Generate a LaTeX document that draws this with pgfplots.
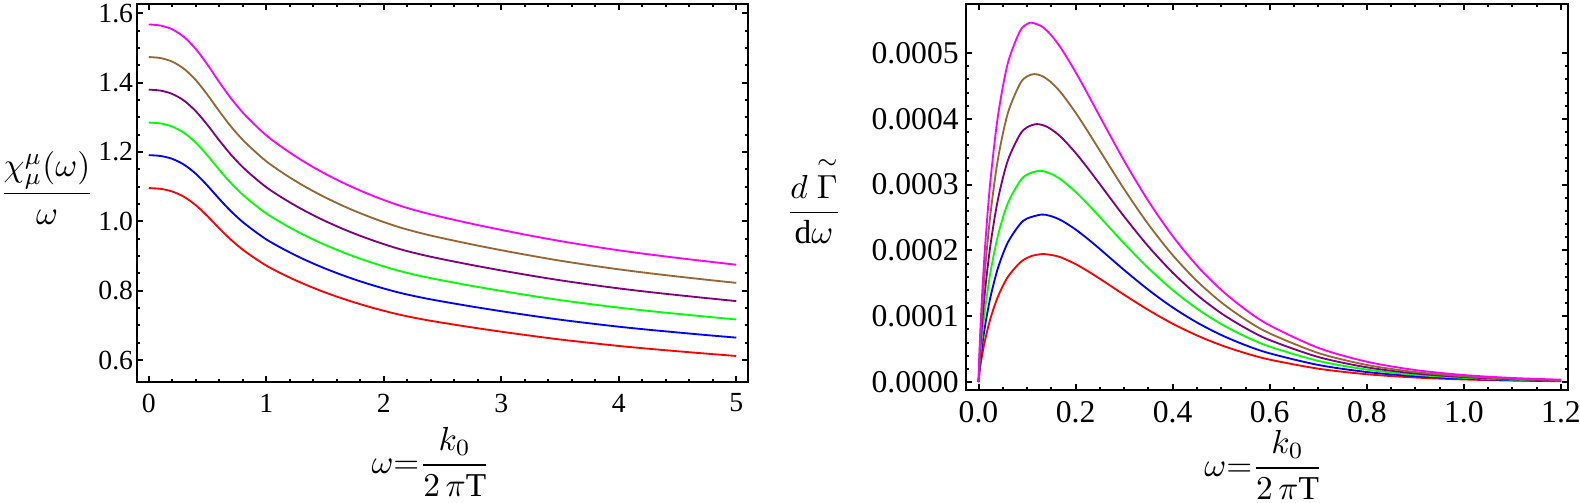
\documentclass[border=0pt]{standalone}
\usepackage{amsmath}
\usepackage{fontspec}
\setmainfont{Liberation Serif}
\usepackage{pgfplots}
\usepackage{pgfplotstable}
\pgfplotsset{compat=1.18}
\definecolor{mBrown}{rgb}{0.6,0.4,0.2}
\definecolor{mPurple}{rgb}{0.5,0,0.5}
\definecolor{mGreen}{rgb}{0,1,0}
\definecolor{mMagenta}{rgb}{1,0,1}
\definecolor{mBlue}{rgb}{0,0,1}
\definecolor{mRed}{rgb}{1,0,0}
\pgfplotstableread{
x     red     blue    green   purple  brown   magenta
0     1.0960  1.1910  1.2850  1.3800  1.4740  1.5680
0.1   1.0938  1.1886  1.2824  1.3772  1.4711  1.5649
0.2   1.0861  1.1803  1.2734  1.3676  1.4607  1.5539
0.3   1.0708  1.1636  1.2554  1.3483  1.4401  1.5319
0.4   1.0467  1.1374  1.2272  1.3179  1.4077  1.4974
0.5   1.0149  1.1029  1.1899  1.2779  1.3649  1.4520
0.6   0.9798  1.0648  1.1488  1.2337  1.3178  1.4018
0.7   0.9469  1.0290  1.1102  1.1923  1.2735  1.3548
0.8   0.9184  0.9981  1.0768  1.1564  1.2352  1.3140
0.9   0.8943  0.9719  1.0486  1.1261  1.2028  1.2795
1.0   0.8724  0.9480  1.0229  1.0985  1.1733  1.2481
1.1   0.8543  0.9284  1.0017  1.0757  1.1490  1.2223
1.2   0.8378  0.9104  0.9823  1.0549  1.1267  1.1986
1.3   0.8224  0.8937  0.9643  1.0356  1.1061  1.1766
1.4   0.8083  0.8784  0.9477  1.0178  1.0871  1.1564
1.5   0.7951  0.8641  0.9323  1.0012  1.0694  1.1376
1.6   0.7830  0.8509  0.9180  0.9859  1.0530  1.1202
1.7   0.7716  0.8385  0.9046  0.9715  1.0377  1.1039
1.8   0.7611  0.8270  0.8923  0.9583  1.0235  1.0888
1.9   0.7512  0.8163  0.8807  0.9459  1.0103  1.0747
2.0   0.7421  0.8064  0.8701  0.9344  0.9980  1.0617
2.1   0.7336  0.7971  0.8601  0.9236  0.9865  1.0495
2.2   0.7260  0.7889  0.8512  0.9141  0.9764  1.0386
2.35  0.7161  0.7782  0.8396  0.9017  0.9631  1.0245
2.5   0.7075  0.7688  0.8295  0.8908  0.9515  1.0121
2.75  0.6941  0.7543  0.8138  0.8740  0.9335  0.9930
3.0   0.6817  0.7408  0.7993  0.8584  0.9168  0.9753
3.25  0.6701  0.7282  0.7856  0.8437  0.9012  0.9587
3.5   0.6592  0.7164  0.7729  0.8301  0.8866  0.9432
3.75  0.6496  0.7059  0.7616  0.8179  0.8736  0.9294
4.0   0.6406  0.6961  0.7511  0.8066  0.8616  0.9165
4.25  0.6326  0.6874  0.7417  0.7965  0.8508  0.9050
4.5   0.6253  0.6795  0.7331  0.7873  0.8409  0.8945
4.75  0.6183  0.6718  0.7249  0.7785  0.8315  0.8845
5.0   0.6116  0.6646  0.7170  0.7700  0.8225  0.8749
}\chitable
\pgfplotsset{
  mma/.style={
    scale only axis,
    axis line style={line width=0.8pt},
    tick align=inside, tick pos=both,
    major tick length=1.8pt, minor tick length=1.0pt,
    tick style={line width=0.6pt, black},
    /pgf/number format/assume math mode=true,
    label style={font=\fontsize{10}{12}\selectfont},
  },
}
\begin{document}
\begin{tikzpicture}
\useasboundingbox (0,0) rectangle (474pt,-150.6pt);
% ---------------- left panel ----------------
\begin{axis}[mma,
  at={(41.1pt,-114.6pt)}, anchor=south west,
  width=183.3pt, height=113.4pt,
  xmin=-0.1, xmax=5.1, ymin=0.5365, ymax=1.627,
  every tick label/.append style={font=\fontsize{8.3}{10}\selectfont},
  xtick={0,1,2,3,4,5}, minor x tick num=4,
  ytick={0.6,0.8,1.0,1.2,1.4,1.6}, minor y tick num=3,
  yticklabel style={/pgf/number format/fixed,/pgf/number format/fixed zerofill,/pgf/number format/precision=1, inner sep=1pt},
  xlabel={$\omega{=}\dfrac{k_0}{2\,\pi\mathrm{T}}$},
  xlabel style={at={(axis description cs:0.5,0)}, anchor=center, yshift=-24pt, xshift=-3.5pt},
  ylabel={$\dfrac{\chi^{\mu}_{\mu}(\omega)}{\omega}$},
  ylabel style={at={(axis description cs:0,0.513)}, anchor=center, rotate=-90, xshift=-27pt},
]
\addplot[mRed, line width=0.55pt, smooth] table[x=x, y=red] {\chitable};
\addplot[mBlue, line width=0.55pt, smooth] table[x=x, y=blue] {\chitable};
\addplot[mGreen, line width=0.55pt, smooth] table[x=x, y=green] {\chitable};
\addplot[mPurple, line width=0.55pt, smooth] table[x=x, y=purple] {\chitable};
\addplot[mBrown, line width=0.55pt, smooth] table[x=x, y=brown] {\chitable};
\addplot[mMagenta, line width=0.55pt, smooth] table[x=x, y=magenta] {\chitable};
\end{axis}
% ---------------- right panel (y in units of 1e-4) ----------------
\begin{axis}[mma,
  at={(289.8pt,-117pt)}, anchor=south west,
  width=180.6pt, height=115.8pt,
  xmin=-0.0258, xmax=1.2144, ymin=-0.1216, ymax=5.745,
  every tick label/.append style={font=\fontsize{9.5}{11}\selectfont},
  xtick={0,0.2,0.4,0.6,0.8,1.0,1.2}, minor x tick num=3,
  xticklabel style={/pgf/number format/fixed,/pgf/number format/fixed zerofill,/pgf/number format/precision=1},
  ytick={0,1,2,3,4,5}, minor y tick num=4,
  yticklabels={0.0000,0.0001,0.0002,0.0003,0.0004,0.0005},
  yticklabel style={inner sep=2pt},
  xlabel={$\omega{=}\dfrac{k_0}{2\,\pi\mathrm{T}}$},
  xlabel style={at={(axis description cs:0.5,0)}, anchor=center, yshift=-22.5pt, xshift=-1pt},
  ylabel={$\dfrac{d\;\overset{\sim}{\Gamma}}{\mathrm{d}\omega}$},
  ylabel style={at={(axis description cs:0,0.492)}, anchor=center, rotate=-90, xshift=-45.6pt},
]
\addplot[mRed, line width=0.55pt, smooth] coordinates {(0,0)(0.003,0.204)(0.008,0.434)(0.015,0.688)(0.025,0.976)(0.04,1.299)(0.06,1.593)(0.085,1.812)(0.1,1.887)(0.11,1.918)(0.1335,1.945)(0.16,1.916)(0.175,1.878)(0.2,1.792)(0.225,1.686)(0.25,1.569)(0.3,1.326)(0.35,1.094)(0.4,0.886)(0.45,0.708)(0.5,0.559)(0.55,0.438)(0.6,0.340)(0.7,0.2025)(0.8,0.1180)(0.9,0.0680)(1.0,0.0387)(1.1,0.0218)(1.2,0.0122)};
\addplot[mBlue, line width=0.55pt, smooth] coordinates {(0,0)(0.003,0.2743)(0.008,0.583)(0.015,0.923)(0.025,1.305)(0.04,1.732)(0.06,2.116)(0.085,2.395)(0.1,2.485)(0.129,2.545)(0.145,2.530)(0.16,2.493)(0.175,2.438)(0.2,2.318)(0.225,2.175)(0.25,2.021)(0.3,1.702)(0.35,1.401)(0.4,1.133)(0.45,0.9045)(0.5,0.7146)(0.55,0.5599)(0.6,0.4355)(0.7,0.2593)(0.8,0.1517)(0.9,0.0877)(1.0,0.0501)(1.1,0.0284)(1.2,0.0160)};
\addplot[mGreen, line width=0.55pt, smooth] coordinates {(0,0)(0.003,0.356)(0.008,0.755)(0.015,1.193)(0.025,1.684)(0.04,2.227)(0.06,2.710)(0.085,3.049)(0.1,3.153)(0.1245,3.21)(0.145,3.179)(0.16,3.124)(0.175,3.048)(0.2,2.889)(0.225,2.705)(0.25,2.507)(0.3,2.106)(0.35,1.730)(0.4,1.398)(0.45,1.115)(0.5,0.881)(0.55,0.691)(0.6,0.538)(0.7,0.321)(0.8,0.1886)(0.9,0.1093)(1.0,0.0628)(1.1,0.0358)(1.2,0.0202)};
\addplot[mPurple, line width=0.55pt, smooth] coordinates {(0,0)(0.003,0.447)(0.008,0.948)(0.015,1.496)(0.025,2.105)(0.04,2.775)(0.06,3.359)(0.085,3.757)(0.1,3.871)(0.12,3.92)(0.14,3.883)(0.16,3.786)(0.175,3.686)(0.2,3.482)(0.225,3.251)(0.25,3.006)(0.3,2.515)(0.35,2.060)(0.4,1.662)(0.45,1.324)(0.5,1.045)(0.55,0.819)(0.6,0.637)(0.7,0.380)(0.8,0.2234)(0.9,0.1297)(1.0,0.0746)(1.1,0.0426)(1.2,0.0241)};
\addplot[mBrown, line width=0.55pt, smooth] coordinates {(0,0)(0.003,0.552)(0.008,1.168)(0.015,1.839)(0.025,2.582)(0.04,3.388)(0.06,4.077)(0.085,4.527)(0.1,4.645)(0.115,4.68)(0.13,4.654)(0.145,4.583)(0.16,4.479)(0.175,4.349)(0.2,4.094)(0.225,3.811)(0.25,3.516)(0.3,2.931)(0.35,2.395)(0.4,1.928)(0.45,1.535)(0.5,1.211)(0.55,0.948)(0.6,0.738)(0.7,0.441)(0.8,0.2595)(0.9,0.1511)(1.0,0.0871)(1.1,0.0499)(1.2,0.0284)};
\addplot[mMagenta, line width=0.55pt, smooth] coordinates {(0,0)(0.003,0.667)(0.008,1.409)(0.015,2.213)(0.025,3.097)(0.04,4.044)(0.06,4.836)(0.085,5.328)(0.1,5.441)(0.110,5.46)(0.13,5.406)(0.145,5.309)(0.16,5.176)(0.175,5.016)(0.2,4.710)(0.225,4.377)(0.25,4.034)(0.3,3.362)(0.35,2.749)(0.4,2.217)(0.45,1.769)(0.5,1.400)(0.55,1.101)(0.6,0.8606)(0.7,0.5187)(0.8,0.3085)(0.9,0.1815)(1.0,0.1060)(1.1,0.0614)(1.2,0.0354)};
\end{axis}
\end{tikzpicture}
\end{document}
